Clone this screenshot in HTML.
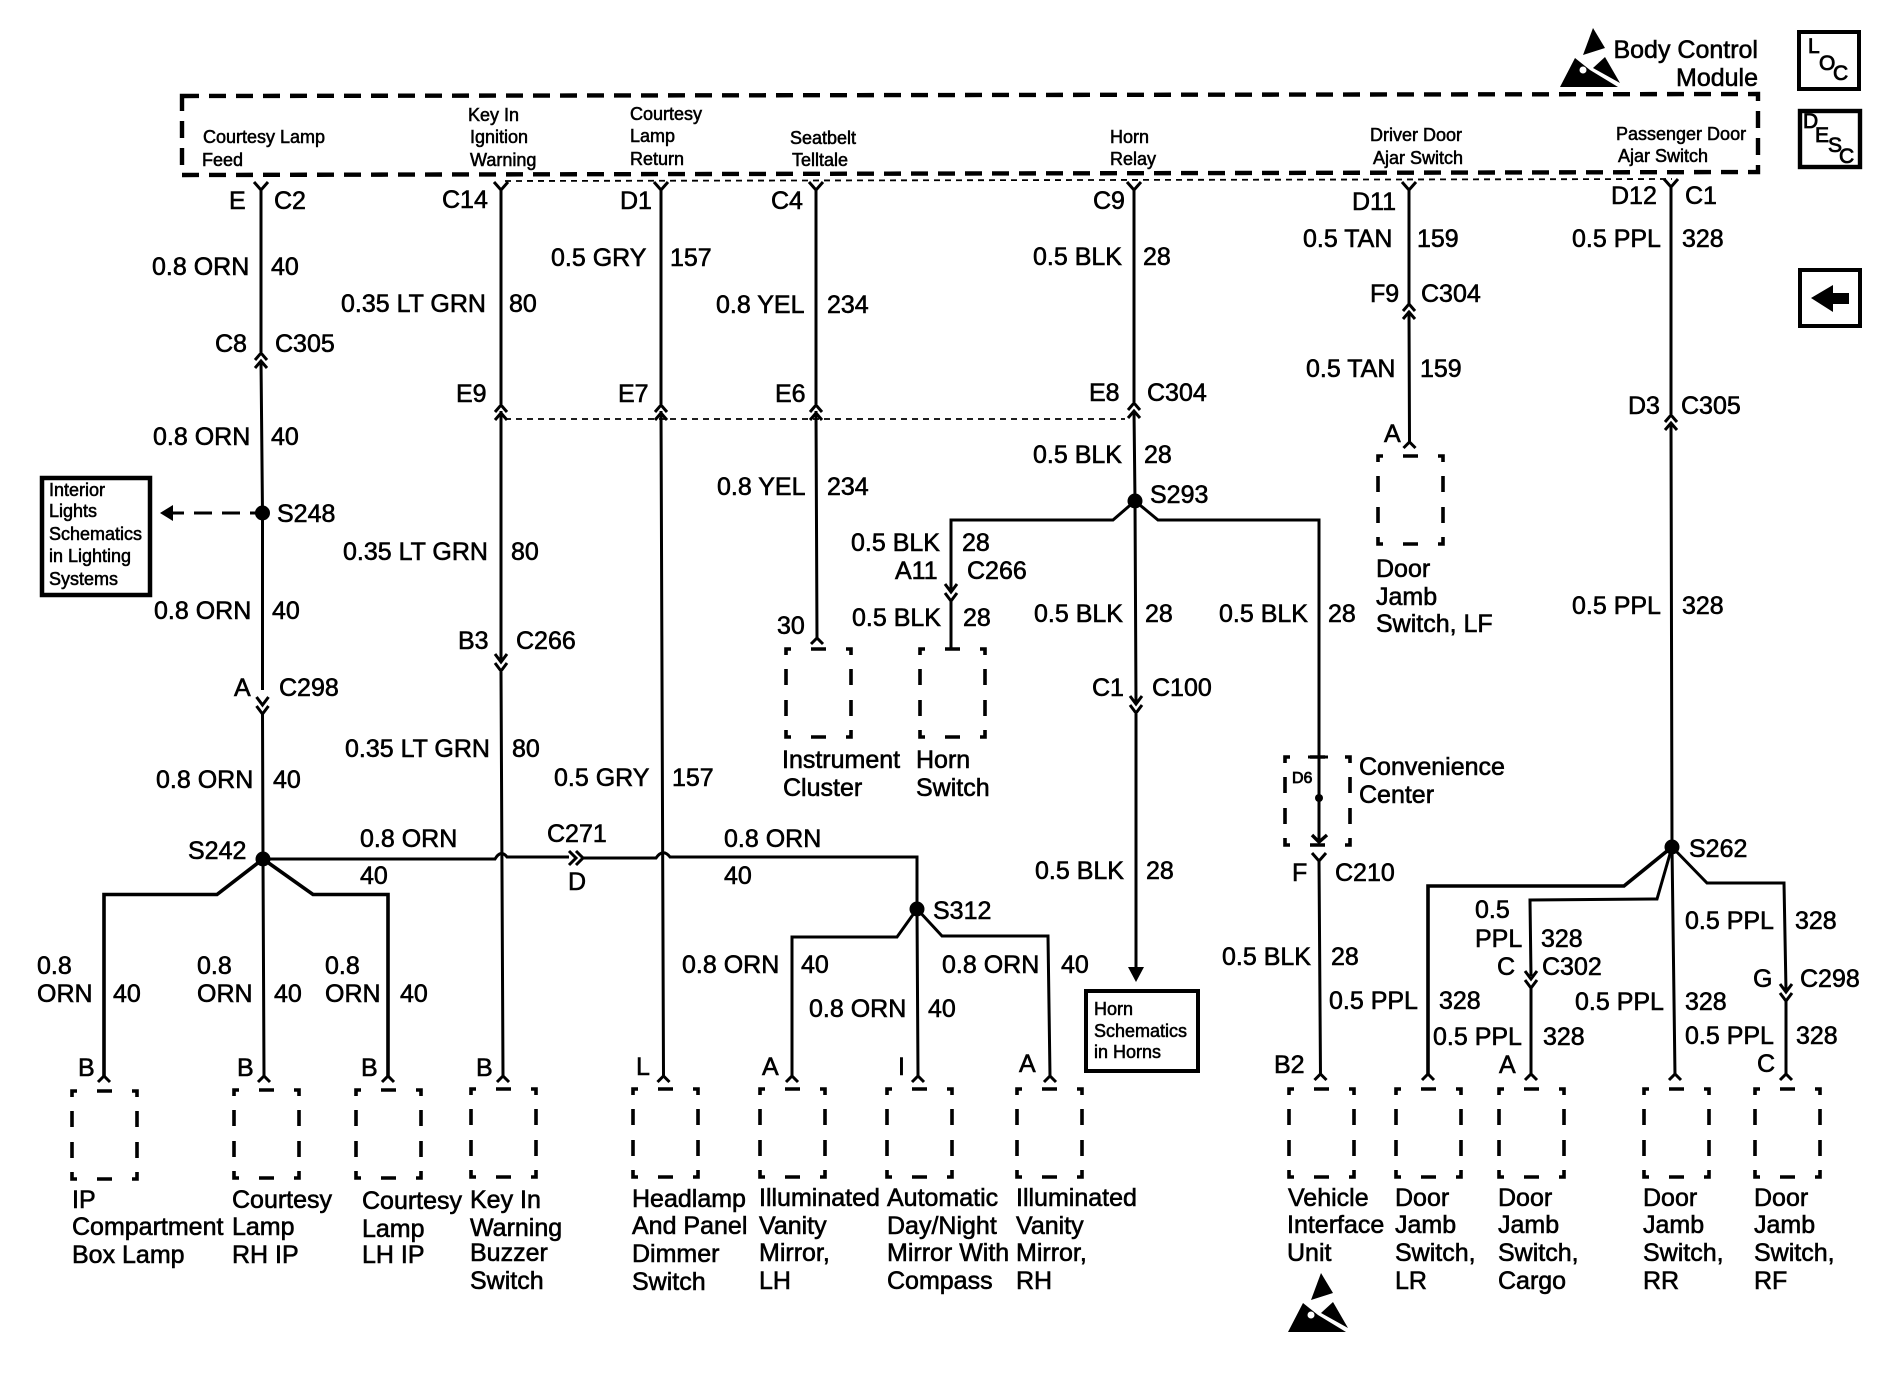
<!DOCTYPE html>
<html><head><meta charset="utf-8"><style>
html,body{margin:0;padding:0;background:#fff}
svg{display:block}
text{font-family:"Liberation Sans",sans-serif;font-size:25px;fill:#000;stroke:#000;stroke-width:.6px}
.s text{font-size:18px;stroke-width:.55px}
.l text{font-size:21px;stroke-width:.8px}
</style></head><body>
<svg xmlns="http://www.w3.org/2000/svg" width="1888" height="1392" viewBox="0 0 1888 1392">
<defs>
<path id="u" d="M-6,7L0,0L6,7M-6,15L0,8L6,15" fill="none" stroke="#000" stroke-width="3"/>
<path id="d" d="M-6,-8L0,0L6,-8M-6,1L0,9L6,1" fill="none" stroke="#000" stroke-width="3"/>
<path id="f" d="M-7,0L0,8L7,0" fill="none" stroke="#000" stroke-width="3"/>
<path id="k" d="M-6,6L0,0L6,6" fill="none" stroke="#000" stroke-width="3"/>
<path id="b" d="M0,6V0H5M25,0H40M60,0H65V6M0,20V36M65,20V36M0,51V67M65,51V67M0,81V88H5M25,88H40M60,88H65V81" fill="none" stroke="#000" stroke-width="3.6"/>
<g id="esd"><polygon points="1593,28 1605,48 1583,55" fill="#000"/><polygon points="1605,57 1620,83 1593,68" fill="#000"/><polygon points="1560,87 1575,58 1590,70 1618,87" fill="#000"/><circle cx="1583" cy="70" r="3.5" fill="#fff"/></g>
</defs>
<rect width="1888" height="1392" fill="#fff"/>

<!-- module -->
<path d="M182,96L1758,94V172L182,175Z" fill="none" stroke="#000" stroke-width="4.4" stroke-dasharray="17 10"/>
<path d="M505,181L1672,179" fill="none" stroke="#000" stroke-width="1.8" stroke-dasharray="6 5"/>
<path d="M505,419H1125" fill="none" stroke="#000" stroke-width="1.8" stroke-dasharray="6 5"/>

<!-- wires -->
<g fill="none" stroke="#000" stroke-width="3">
<path d="M261,189V352M261,361L262.5,513L262.5,690M262.5,714L263,859L264,1076"/>
<path d="M501,189V404M501,411V662M501,672L503,1076"/>
<path d="M661,189V404M661,411L663.5,1076"/>
<path d="M816,189V404M816,411L817,640"/>
<path d="M1134,189V402M1134,411L1135,501L1136,702M1136,714V970"/>
<path d="M1409,189V304M1409,311L1409.5,442"/>
<path d="M1671,186V414M1671,423L1672,847L1675,1076"/>
<!-- S242 -->
<path d="M263,859H495Q501,849 507,857H569M583,858H656Q663,848 670,857H917V909L918,1076"/>
<path d="M263,859L217,894.5H104V1076" stroke-width="3.6"/>
<path d="M263,859L313,894.5H388V1076" stroke-width="3.6"/>
<path d="M917,909L897,937H792V1076"/>
<path d="M917,909L942,936H1048L1050,1076"/>
<!-- S293 -->
<path d="M1135,501L1113,520H951V590M951,600V650"/>
<path d="M1135,501L1158,520H1319L1319,840M1319,860L1320.5,1076"/>
<path d="M1308,757H1328"/>
<!-- S262 -->
<path d="M1672,847L1624,886H1428V1076" stroke-width="3.6"/>
<path d="M1672,847L1657,899L1530,900L1531,976M1531,988V1076"/>
<path d="M1672,847L1707,883H1784L1786,990M1786,1000V1076"/>
<path d="M262,513H250" />
<path d="M240,513H222M212,513H194M184,513H172" stroke-width="3"/>
<path d="M569,851L576,858L569,865M576,851L583,858L576,865"/>
</g>
<polygon points="160,513 173,505 173,521" fill="#000"/>
<polygon points="1128,967 1144,967 1136,982" fill="#000"/>
<g fill="#000"><circle cx="262.5" cy="513" r="7.5"/><circle cx="263" cy="859" r="7.5"/><circle cx="917" cy="909" r="7.5"/><circle cx="1135" cy="501" r="7.5"/><circle cx="1672" cy="847" r="7.5"/><circle cx="1319" cy="798" r="4"/></g>
<path d="M1312,835L1319,842L1327,835" fill="none" stroke="#000" stroke-width="3.4"/>

<!-- connector glyphs -->
<use href="#f" x="261" y="182"/><use href="#f" x="501" y="182"/><use href="#f" x="661" y="182"/><use href="#f" x="816" y="182"/><use href="#f" x="1134" y="182"/><use href="#f" x="1409" y="182"/><use href="#f" x="1671" y="179"/>
<use href="#f" x="1319" y="853"/>
<use href="#u" x="261" y="353"/><use href="#u" x="501" y="405"/><use href="#u" x="661" y="405"/><use href="#u" x="816" y="405"/><use href="#u" x="1134" y="403"/><use href="#u" x="1409" y="304"/><use href="#u" x="1671" y="415"/>
<use href="#d" x="262.5" y="705"/><use href="#d" x="501" y="662"/><use href="#d" x="1136" y="704"/><use href="#d" x="951" y="592"/><use href="#d" x="1531" y="979"/><use href="#d" x="1786" y="992"/>
<use href="#k" x="264" y="1076"/><use href="#k" x="104" y="1076"/><use href="#k" x="388" y="1076"/><use href="#k" x="503" y="1076"/><use href="#k" x="663.5" y="1076"/><use href="#k" x="792" y="1076"/><use href="#k" x="918" y="1076"/><use href="#k" x="1050" y="1076"/><use href="#k" x="1320.5" y="1074"/><use href="#k" x="1428" y="1074"/><use href="#k" x="1531" y="1074"/><use href="#k" x="1675" y="1074"/><use href="#k" x="1786" y="1074"/><use href="#k" x="817" y="638"/><use href="#k" x="1409.5" y="442"/>

<!-- component boxes -->
<use href="#b" x="72" y="1091"/><use href="#b" x="234" y="1090"/><use href="#b" x="356" y="1090"/><use href="#b" x="471" y="1089"/><use href="#b" x="633" y="1089"/><use href="#b" x="760" y="1089"/><use href="#b" x="887" y="1089"/><use href="#b" x="1017" y="1089"/><use href="#b" x="1289" y="1089"/><use href="#b" x="1396" y="1089"/><use href="#b" x="1499" y="1089"/><use href="#b" x="1644" y="1089"/><use href="#b" x="1755" y="1089"/>
<use href="#b" x="786" y="649"/><use href="#b" x="920" y="649"/><use href="#b" x="1378" y="456"/><use href="#b" x="1285" y="757"/>

<!-- reference boxes -->
<rect x="42" y="478" width="108" height="117" fill="none" stroke="#000" stroke-width="4.5"/>
<rect x="1086" y="991" width="112" height="80" fill="none" stroke="#000" stroke-width="4"/>
<rect x="1799" y="32" width="60" height="57" fill="none" stroke="#000" stroke-width="4"/>
<rect x="1800" y="111" width="60" height="56" fill="none" stroke="#000" stroke-width="4.4"/>
<rect x="1800" y="270" width="60" height="56" fill="none" stroke="#000" stroke-width="4"/>
<polygon points="1811,298 1833,285 1833,293 1849,293 1849,304 1833,304 1833,312" fill="#000"/>
<use href="#esd"/>
<use href="#esd" transform="translate(-272,1245)"/>

<!-- small labels -->
<g class="s">
<text x="203" y="143">Courtesy Lamp</text><text x="202" y="166">Feed</text>
<text x="468" y="121">Key In</text><text x="470" y="143">Ignition</text><text x="470" y="166">Warning</text>
<text x="630" y="120">Courtesy</text><text x="630" y="142">Lamp</text><text x="630" y="165">Return</text>
<text x="790" y="144">Seatbelt</text><text x="792" y="166">Telltale</text>
<text x="1110" y="143">Horn</text><text x="1110" y="165">Relay</text>
<text x="1370" y="141">Driver Door</text><text x="1373" y="164">Ajar Switch</text>
<text x="1616" y="140">Passenger Door</text><text x="1618" y="162">Ajar Switch</text>
<text x="49" y="496">Interior</text><text x="49" y="517">Lights</text><text x="49" y="540">Schematics</text><text x="49" y="562">in Lighting</text><text x="49" y="585">Systems</text>
<text x="1094" y="1015">Horn</text><text x="1094" y="1037">Schematics</text><text x="1094" y="1058">in Horns</text>
<text x="1292" y="783" style="font-size:16px;stroke-width:.8px">D6</text>
</g>
<g class="l">
<text x="1808" y="53">L</text><text x="1819" y="70">O</text><text x="1833" y="80">C</text>
<text x="1803" y="128">D</text><text x="1815" y="142">E</text><text x="1828" y="152">S</text><text x="1839" y="163">C</text>
</g>

<text x="1758" y="58" text-anchor="end">Body Control</text><text x="1758" y="86" text-anchor="end">Module</text>

<!-- column 1 -->
<text x="229" y="209">E</text><text x="274" y="209">C2</text>
<text x="152" y="275">0.8 ORN</text><text x="271" y="275">40</text>
<text x="215" y="352">C8</text><text x="275" y="352">C305</text>
<text x="153" y="445">0.8 ORN</text><text x="271" y="445">40</text>
<text x="277" y="522">S248</text>
<text x="154" y="619">0.8 ORN</text><text x="272" y="619">40</text>
<text x="234" y="696">A</text><text x="279" y="696">C298</text>
<text x="156" y="788">0.8 ORN</text><text x="273" y="788">40</text>
<text x="188" y="859">S242</text>
<!-- column 2 -->
<text x="442" y="208">C14</text>
<text x="341" y="312">0.35 LT GRN</text><text x="509" y="312">80</text>
<text x="456" y="402">E9</text>
<text x="343" y="560">0.35 LT GRN</text><text x="511" y="560">80</text>
<text x="458" y="649">B3</text><text x="516" y="649">C266</text>
<text x="345" y="757">0.35 LT GRN</text><text x="512" y="757">80</text>
<!-- column 3 -->
<text x="620" y="209">D1</text>
<text x="551" y="266">0.5 GRY</text><text x="670" y="266">157</text>
<text x="618" y="402">E7</text>
<text x="554" y="786">0.5 GRY</text><text x="672" y="786">157</text>
<!-- column 4 -->
<text x="771" y="209">C4</text>
<text x="716" y="313">0.8 YEL</text><text x="827" y="313">234</text>
<text x="775" y="402">E6</text>
<text x="717" y="495">0.8 YEL</text><text x="827" y="495">234</text>
<text x="851" y="551">0.5 BLK</text><text x="962" y="551">28</text>
<text x="895" y="579">A11</text><text x="967" y="579">C266</text>
<text x="777" y="634">30</text>
<text x="852" y="626">0.5 BLK</text><text x="963" y="626">28</text>
<text x="782" y="768">Instrument</text><text x="783" y="796">Cluster</text>
<text x="916" y="768">Horn</text><text x="916" y="796">Switch</text>
<!-- horizontal -->
<text x="360" y="847">0.8 ORN</text><text x="360" y="884">40</text>
<text x="547" y="842">C271</text><text x="568" y="890">D</text>
<text x="724" y="847">0.8 ORN</text><text x="724" y="884">40</text>
<text x="37" y="974">0.8</text><text x="37" y="1002">ORN</text><text x="113" y="1002">40</text>
<text x="197" y="974">0.8</text><text x="197" y="1002">ORN</text><text x="274" y="1002">40</text>
<text x="325" y="974">0.8</text><text x="325" y="1002">ORN</text><text x="400" y="1002">40</text>
<text x="78" y="1076">B</text><text x="237" y="1076">B</text><text x="361" y="1076">B</text><text x="476" y="1076">B</text>
<text x="636" y="1075">L</text><text x="762" y="1075">A</text><text x="898" y="1075">I</text>
<text x="682" y="973">0.8 ORN</text><text x="801" y="973">40</text>
<text x="809" y="1017">0.8 ORN</text><text x="928" y="1017">40</text>
<text x="942" y="973">0.8 ORN</text><text x="1061" y="973">40</text>
<text x="1019" y="1072">A</text>
<text x="933" y="919">S312</text>
<!-- column 5 -->
<text x="1093" y="209">C9</text>
<text x="1033" y="265">0.5 BLK</text><text x="1143" y="265">28</text>
<text x="1089" y="401">E8</text><text x="1147" y="401">C304</text>
<text x="1033" y="463">0.5 BLK</text><text x="1144" y="463">28</text>
<text x="1150" y="503">S293</text>
<text x="1034" y="622">0.5 BLK</text><text x="1145" y="622">28</text>
<text x="1219" y="622">0.5 BLK</text><text x="1328" y="622">28</text>
<text x="1092" y="696">C1</text><text x="1152" y="696">C100</text>
<text x="1035" y="879">0.5 BLK</text><text x="1146" y="879">28</text>
<!-- column 6 -->
<text x="1352" y="210">D11</text>
<text x="1303" y="247">0.5 TAN</text><text x="1417" y="247">159</text>
<text x="1370" y="302">F9</text><text x="1421" y="302">C304</text>
<text x="1306" y="377">0.5 TAN</text><text x="1420" y="377">159</text>
<text x="1384" y="442">A</text>
<text x="1376" y="577">Door</text><text x="1376" y="605">Jamb</text><text x="1376" y="632">Switch, LF</text>
<text x="1359" y="775">Convenience</text><text x="1359" y="803">Center</text>
<text x="1292" y="881">F</text><text x="1335" y="881">C210</text>
<text x="1222" y="965">0.5 BLK</text><text x="1331" y="965">28</text>
<text x="1329" y="1009">0.5 PPL</text><text x="1439" y="1009">328</text>
<!-- column 7 -->
<text x="1611" y="204">D12</text><text x="1685" y="204">C1</text>
<text x="1572" y="247">0.5 PPL</text><text x="1682" y="247">328</text>
<text x="1628" y="414">D3</text><text x="1681" y="414">C305</text>
<text x="1572" y="614">0.5 PPL</text><text x="1682" y="614">328</text>
<text x="1689" y="857">S262</text>
<text x="1475" y="918">0.5</text><text x="1475" y="947">PPL</text><text x="1541" y="947">328</text>
<text x="1497" y="975">C</text><text x="1542" y="975">C302</text>
<text x="1685" y="929">0.5 PPL</text><text x="1795" y="929">328</text>
<text x="1753" y="987">G</text><text x="1800" y="987">C298</text>
<text x="1575" y="1010">0.5 PPL</text><text x="1685" y="1010">328</text>
<text x="1433" y="1045">0.5 PPL</text><text x="1543" y="1045">328</text>
<text x="1685" y="1044">0.5 PPL</text><text x="1796" y="1044">328</text>
<text x="1274" y="1073">B2</text><text x="1499" y="1073">A</text><text x="1757" y="1072">C</text>

<!-- component labels -->
<text x="72" y="1208">IP</text><text x="72" y="1235">Compartment</text><text x="72" y="1263">Box Lamp</text>
<text x="232" y="1208">Courtesy</text><text x="232" y="1235">Lamp</text><text x="232" y="1263">RH IP</text>
<text x="362" y="1209">Courtesy</text><text x="362" y="1237">Lamp</text><text x="362" y="1263">LH IP</text>
<text x="470" y="1208">Key In</text><text x="470" y="1236">Warning</text><text x="470" y="1261">Buzzer</text><text x="470" y="1289">Switch</text>
<text x="632" y="1207">Headlamp</text><text x="632" y="1234">And Panel</text><text x="632" y="1262">Dimmer</text><text x="632" y="1290">Switch</text>
<text x="759" y="1206">Illuminated</text><text x="759" y="1234">Vanity</text><text x="759" y="1261">Mirror,</text><text x="759" y="1289">LH</text>
<text x="887" y="1206">Automatic</text><text x="887" y="1234">Day/Night</text><text x="887" y="1261">Mirror With</text><text x="887" y="1289">Compass</text>
<text x="1016" y="1206">Illuminated</text><text x="1016" y="1234">Vanity</text><text x="1016" y="1261">Mirror,</text><text x="1016" y="1289">RH</text>
<text x="1288" y="1206">Vehicle</text><text x="1287" y="1233">Interface</text><text x="1287" y="1261">Unit</text>
<text x="1395" y="1206">Door</text><text x="1395" y="1233">Jamb</text><text x="1395" y="1261">Switch,</text><text x="1395" y="1289">LR</text>
<text x="1498" y="1206">Door</text><text x="1498" y="1233">Jamb</text><text x="1498" y="1261">Switch,</text><text x="1498" y="1289">Cargo</text>
<text x="1643" y="1206">Door</text><text x="1643" y="1233">Jamb</text><text x="1643" y="1261">Switch,</text><text x="1643" y="1289">RR</text>
<text x="1754" y="1206">Door</text><text x="1754" y="1233">Jamb</text><text x="1754" y="1261">Switch,</text><text x="1754" y="1289">RF</text>
</svg>
</body></html>
